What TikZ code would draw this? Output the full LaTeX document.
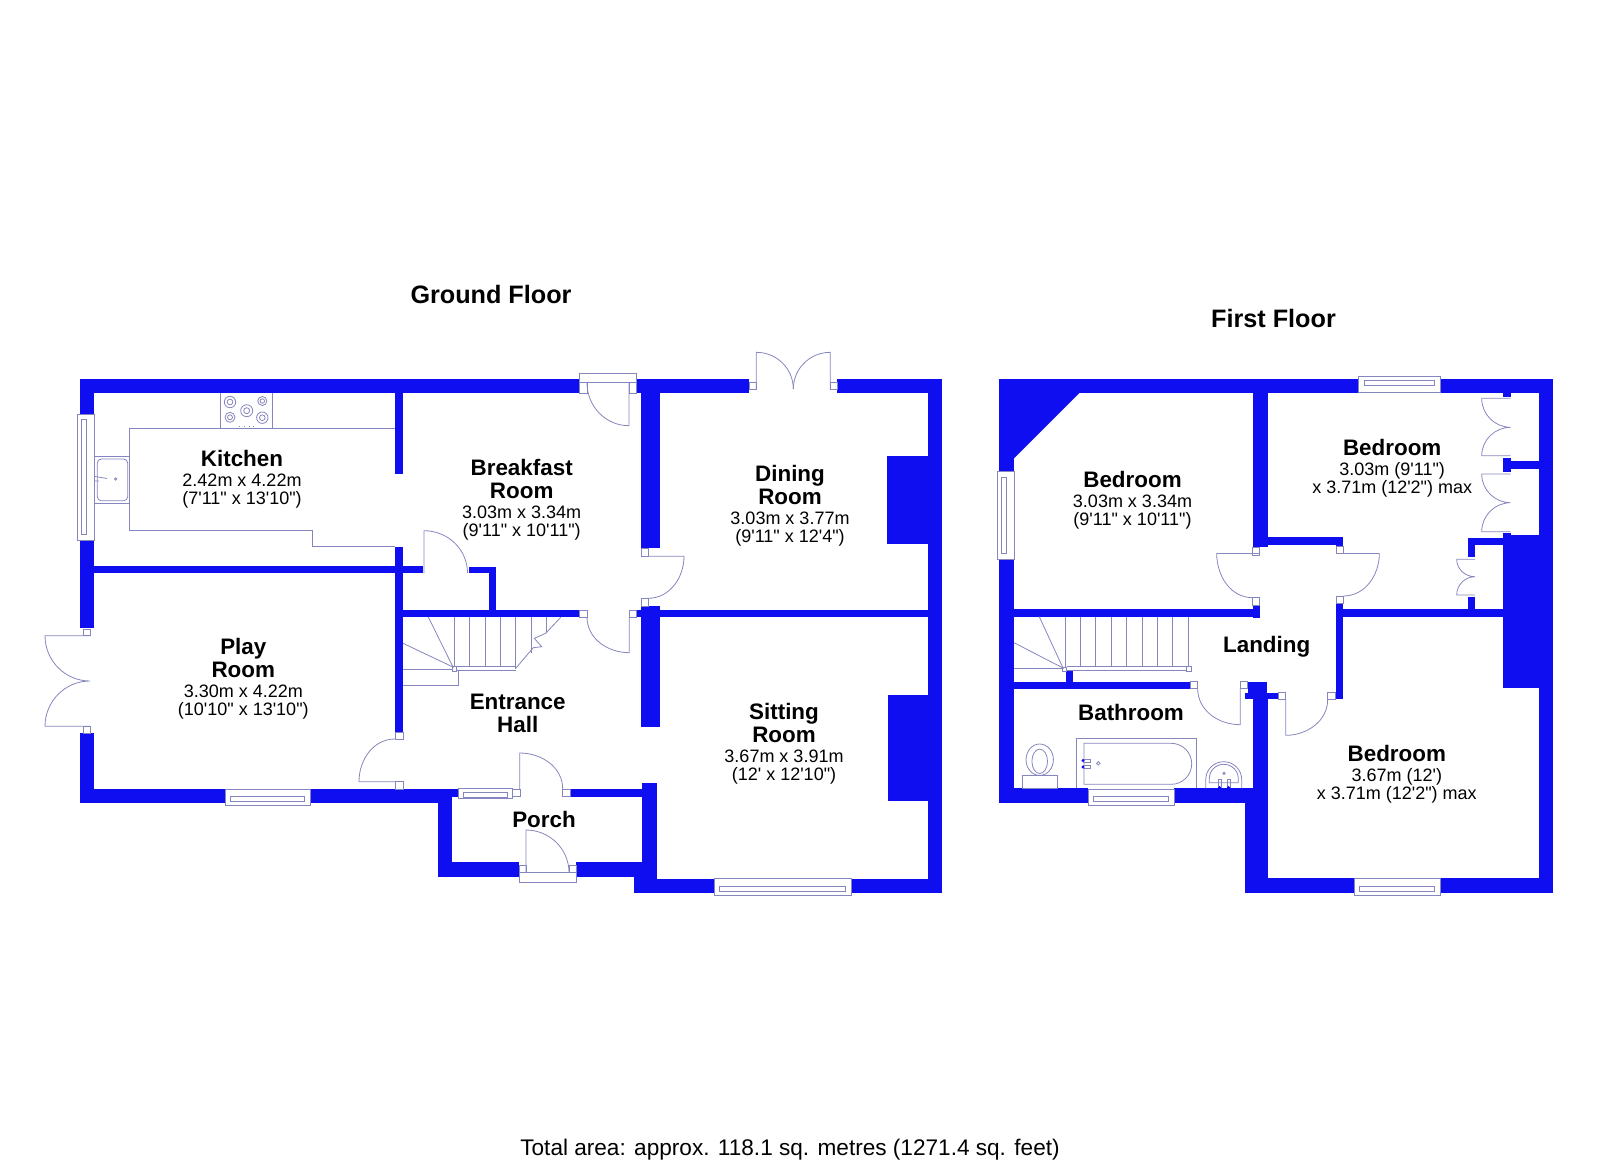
\documentclass[tikz,border=0pt]{standalone}
\usepackage{fontspec}
\usepackage{tikz}
\newfontfamily\planfont{Liberation Sans}
\definecolor{wallblue}{RGB}{14,14,240}
\definecolor{fixgray}{RGB}{134,134,190}
\newcommand{\namesize}{\fontsize{11.2}{11.5}\selectfont\bfseries}
\newcommand{\dimsize}{\fontsize{9}{9}\selectfont\lineskiplimit=-100pt\relax}

\begin{document}
\begin{tikzpicture}[x=0.5pt,y=-0.5pt,
        wall/.style={fill=wallblue,draw=none},
        fixture/.style={draw=fixgray,line width=0.4pt},
        roomtext/.style={align=center,inner sep=0pt,font=\planfont\dimsize},
        titletext/.style={inner sep=0pt,font=\planfont\fontsize{12.6}{13}\selectfont\bfseries},
        footertext/.style={inner sep=0pt,font=\planfont\fontsize{11.3}{12}\selectfont}]
        \useasboundingbox (0,0) rectangle (1600,1163);

        % ground floor walls
        \foreach \xa/\ya/\xb/\yb in {79.5/378.5/579/393, 636.7/378.5/749.3/393, 837.3/378.5/942.3/393,
                927.7/378.5/942.3/893.3, 886.7/456.3/928/543.7, 887.7/694.7/928/800.7,
                79.5/378.5/94/414, 79.5/540.3/94/628.3, 80/733.3/94/803.3,
                80/789/225.3/803.3, 310/789/438/803.3, 438/789/458/796.7,
                438/789/452/876.5, 438/861.7/519/876.5, 576/861.7/656.7/876.5,
                570/789/641.7/796.7, 641.7/783.3/656.7/893.3,
                634/876/656.7/893.3, 634/878.7/714.3/893.3, 851/878.7/942.3/893.3,
                395/393/403/474, 395/547/403/732, 94/566/423/573,
                469/567/496/573, 489/567/496/610, 403/610/579/617,
                641.3/393/660.3/548, 641.3/606/660.3/726.7, 636.7/610/928/617}
            \fill[wall] (\xa,\ya) rectangle (\xb,\yb);

        % first floor walls
        \foreach \xa/\ya/\xb/\yb in {999.3/378.5/1358.7/393, 1440.3/378.5/1553.3/393,
                999.3/378.5/1014/471.7, 999.3/559.3/1014/803.3,
                999.3/788.3/1088.3/803.3, 1174.3/788.3/1252.7/803.3,
                1539.3/378.5/1553.3/892.7, 1252.7/393/1268.3/547,
                1252.7/537.3/1343.3/544.7, 1336.3/544.7/1343.3/546,
                1336.3/603.3/1343.3/699.3, 1343.3/609.3/1502.7/617,
                1467.7/537.7/1503/545, 1467.7/545/1475/557.3, 1467.7/596.7/1475/609.3,
                1502.7/535/1539.3/688.3, 1503.3/393/1510.7/396.7,
                1503.3/457.7/1510.7/472.3, 1510.7/461/1539.3/468.7, 1503.3/533.3/1510.7/535,
                1014/609.3/1259.7/616.7, 1252.7/605/1259.7/618.3,
                1066/670.7/1073/681.7, 1014/681.7/1190/688.7,
                1247.5/681.7/1267/699.3, 1245/692.5/1278.3/699.3,
                1252.7/699/1267.7/803.3, 1245/803.3/1267.7/892.7,
                1245/878.3/1354/892.7, 1440/878.3/1553.3/892.7}
            \fill[wall] (\xa,\ya) rectangle (\xb,\yb);
        \fill[wall] (999.3,393) -- (1079.3,393) -- (1014,458.3) -- (999.3,458.3) -- cycle;

        % door jambs
        \foreach \xa/\ya/\xb/\yb in {579/382.7/587/393, 629/382.7/636.7/393,
                749.3/382.7/756.3/389.3, 830.3/382.7/837.3/389.3,
                641.3/548/648/556.3, 641.3/598.3/648/606,
                579/610/587/617, 629.3/610/636.7/617,
                395/732/403/739, 395/781.7/403/789,
                512.7/789/520/796.7, 562.7/789/570/796.7,
                519/865.7/526/872.7, 569/865.7/576/872.7,
                83.3/629/90.7/635.7, 83.3/726.3/90.7/733.3,
                1252.7/547.7/1259.7/555, 1336.3/546/1343.3/553.5,
                1252.7/597.7/1259.7/605, 1336.3/596/1343.3/603.3,
                1190/681.7/1197.7/688.7, 1240.3/681.7/1247.5/688.7,
                1278.3/692.5/1285.7/699.3, 1327.7/692.5/1335.3/699.3}
            \draw[fixture] (\xa,\ya) rectangle (\xb,\yb);

        % door leaves and swings, ground floor
        \draw[fixture] (579,373) rectangle (636.7,382.7);
        \draw[fixture] (629,382.7) -- (629,425.7) to[out=180,in=270] (587,382.7);
        \draw[fixture] (756.3,389) -- (756.3,352.3) to[out=0,in=90] (793.3,389);
        \draw[fixture] (830.3,389) -- (830.3,352.3) to[out=180,in=90] (793.3,389);
        \draw[fixture] (648,556.3) -- (684,556.3) to[out=270,in=0] (648,598.3);
        \draw[fixture] (629.3,617) -- (629.3,652.7) to[out=180,in=270] (587,617);
        \draw[fixture] (424,573) -- (424,530.7) to[out=0,in=90] (467.5,573);
        \draw[fixture] (395,781.7) -- (359,781.7) to[out=90,in=180] (395,739);
        \draw[fixture] (519.7,789) -- (519.7,753) to[out=0,in=90] (562.7,789);
        \draw[fixture] (526,872.7) -- (526,830) to[out=0,in=90] (569,872.7);
        \draw[fixture] (519,872.7) rectangle (576,882);
        \draw[fixture] (90.7,635.7) -- (45,635.7) to[out=270,in=180] (90,681)
                to[out=180,in=90] (45,726.3) -- (90.7,726.3);

        % door leaves and swings, first floor
        \draw[fixture] (1259.7,553.5) -- (1216.7,553.5) to[out=270,in=180] (1252.7,597.7);
        \draw[fixture] (1343.3,553.5) -- (1379.3,553.5) to[out=270,in=0] (1343.3,596);
        \draw[fixture] (1240.3,688.7) -- (1240.3,724.7) to[out=180,in=270] (1197.7,688.7);
        \draw[fixture] (1285.7,699.3) -- (1285.7,735.3) to[out=0,in=270] (1327.7,699.3);
        \draw[fixture] (1510.7,398.3) -- (1481.7,398.3) to[out=270,in=180] (1510.7,427.3)
                to[out=180,in=90] (1481.7,455.7) -- (1510.7,455.7);
        \draw[fixture] (1510.7,474) -- (1481.7,474) to[out=270,in=180] (1510.7,502.7)
                to[out=180,in=90] (1481.7,531.7) -- (1510.7,531.7);
        \draw[fixture] (1475,559.3) -- (1456.7,559.3) to[out=270,in=180] (1475,576.7)
                to[out=180,in=90] (1456.7,595) -- (1475,595);

        % windows along a horizontal wall
        \foreach \xa/\ya/\xb/\yb/\yc/\yd in {225.3/789/310/805.3/796.7/801.7,
                714.3/878.7/851/895.7/886/891.7, 1088.3/789/1174.3/805.3/796/801.7,
                1354/878.3/1440/895.3/886/891.7, 1358.7/376/1440.3/392.7/380/385.7,
                458/788/512.7/798/792.7/797.3}{
            \draw[fixture] (\xa,\ya) rectangle (\xb,\yb);
            \draw[fixture] (\xa+5.5,\yc) rectangle (\xb-5.5,\yd);
        }
        % windows along a vertical wall
        \foreach \xa/\ya/\xb/\yb/\xc/\xd in {77/414/94/540.3/81.7/86.7, 997/471.7/1014/559.3/1001.7/1006.7}{
            \draw[fixture] (\xa,\ya) rectangle (\xb,\yb);
            \draw[fixture] (\xc,\ya+5.5) rectangle (\xd,\yb-5.5);
        }

        % kitchen units
        \draw[fixture] (129.3,456) -- (129.3,428.3) -- (395,428.3);
        \draw[fixture] (129.3,503.3) -- (129.3,530.3) -- (312,530.3) -- (312,546.3) -- (395,546.3);
        \draw[fixture] (220.3,393) -- (220.3,428.3);
        \draw[fixture] (272.3,393) -- (272.3,428.3);
        \draw[fixture] (94,456) rectangle (129.3,503.3);
        \draw[fixture,rounded corners=2pt] (97.3,459) rectangle (127.7,500.7);
        \draw[fixture] (95,476.5) -- (107,478.5) (95,481) -- (99,481);
        \draw[fixture] (115.7,479) circle (0.6pt);
        \foreach \cx/\cy/\rad in {230/402/5.7, 262.3/401/4.5, 246.7/410.7/6, 230/417.3/5, 262.3/417.7/5.7}{
            \draw[fixture] (\cx,\cy) circle ({\rad*0.5pt});
            \draw[fixture] (\cx,\cy) circle ({\rad*0.25pt});
        }
        \foreach \cx in {239,244,249,253}
            \draw[fixture] (\cx,426) -- (\cx,427);

        % ground floor stairs
        \foreach \sx/\sb in {469.3/666.7, 485/666.7, 500.3/666.7, 515.7/669, 531/653, 546.7/632}
            \draw[fixture] (\sx,617) -- (\sx,\sb);
        \draw[fixture] (454,617) -- (454,666);
        \draw[fixture] (456.3,666.7) -- (515.7,666.7) (456.3,670) -- (515.7,670);
        \draw[fixture] (452,666) rectangle (456.3,671.4);
        \draw[fixture] (428.3,617) -- (453,667) -- (403,643.3);
        \draw[fixture] (403,669) -- (452,669);
        \draw[fixture] (403,685.7) -- (458.3,685.7) -- (458.3,671);
        \draw[fixture] (560.7,617.3) -- (545.7,633.3) -- (534.3,638.3) -- (541.7,646.7)
                -- (533.3,647.7) -- (515.7,668.3);

        % first floor stairs
        \foreach \sx in {1065,1080.3,1095.7,1111.3,1126.7,1142,1157.3,1172.7,1188.3}
            \draw[fixture] (\sx,616.7) -- (\sx,666.7);
        \draw[fixture] (1066.7,666.7) -- (1186.7,666.7) (1066.7,670.7) -- (1186.7,670.7);
        \draw[fixture] (1186.7,666) rectangle (1191.7,671);
        \draw[fixture] (1062.7,667) rectangle (1066,671);
        \draw[fixture] (1039.3,616.7) -- (1063,668) -- (1014,642.7);
        \draw[fixture] (1014,668.7) -- (1062.7,668.7);

        % bathroom
        \draw[fixture] (1022,788.3) rectangle (1057.7,775.3);
        \draw[fixture] (1039.7,759.7) ellipse (6.85pt and 7.85pt);
        \draw[fixture] (1039.7,761.3) ellipse (3.9pt and 6.1pt);
        \draw[fixture] (1076,788.3) -- (1076,738.3) -- (1196,738.3) -- (1196,788.3);
        \draw[fixture] (1171.2,743.3) -- (1084,743.3) -- (1084,784.3) -- (1171.2,784.3)
                to[out=0,in=270] (1191.7,763.8) to[out=90,in=0] (1171.2,743.3);
        \draw[fixture] (1083,759.3) rectangle (1090,762);
        \draw[fixture] (1083,765.7) rectangle (1090,768.7);
        \fill[wallblue] (1083,760.5) circle (0.8pt) (1083,767) circle (0.8pt);
        \draw[fixture] (1098.3,763.3) circle (0.9pt);
        \draw[fixture] (1205.7,788.3) -- (1205.7,779.7) to[out=90,in=180] (1223.7,761.7)
                to[out=0,in=90] (1241.7,779.7) -- (1241.7,788.3);
        \draw[fixture] (1209.3,782.7) -- (1209.3,778.7) to[out=90,in=180] (1223.7,764.3)
                to[out=0,in=90] (1238.3,778.7) -- (1238.3,782.7) -- cycle;
        \draw[fixture] (1218,779) rectangle (1221,787);
        \draw[fixture] (1227,779) rectangle (1230,787);
        \fill[wallblue] (1219.5,787.5) circle (0.8pt) (1228.5,787.5) circle (0.8pt);
        \draw[fixture] (1224,773.3) circle (0.6pt);

        % labels
        \node[titletext] (groundfloor) at (491,294) {Ground Floor};
        \node[titletext] (firstfloor) at (1273.5,318.4) {First Floor};
        \node[roomtext] (kitchen) at (242,479) {{\namesize Kitchen}\\[1pt]2.42m x 4.22m\\(7'11" x 13'10")};
        \node[roomtext] (breakfast) at (521.7,499.8) {{\namesize Breakfast}\\[2.5pt]{\namesize Room}\\[1pt]3.03m x 3.34m\\(9'11" x 10'11")};
        \node[roomtext] (dining) at (790,505.5) {{\namesize Dining}\\[2.5pt]{\namesize Room}\\[1pt]3.03m x 3.77m\\(9'11" x 12'4")};
        \node[roomtext] (sitting) at (784,743.8) {{\namesize Sitting}\\[2.5pt]{\namesize Room}\\[1pt]3.67m x 3.91m\\(12' x 12'10")};
        \node[roomtext] (play) at (243.3,678.3) {{\namesize Play}\\[2.5pt]{\namesize Room}\\[1pt]3.30m x 4.22m\\(10'10" x 13'10")};
        \node[roomtext] (entrance) at (517.7,713) {{\namesize Entrance}\\[2.5pt]{\namesize Hall}};
        \node[roomtext] (porch) at (544,819.5) {\namesize Porch};
        \node[roomtext] (bedroomwest) at (1132.5,500.5) {{\namesize Bedroom}\\[1pt]3.03m x 3.34m\\(9'11" x 10'11")};
        \node[roomtext] (bedroomeast) at (1392.2,468.5) {{\namesize Bedroom}\\[1pt]3.03m (9'11")\\x 3.71m (12'2") max};
        \node[roomtext] (bedroomfront) at (1396.8,773.8) {{\namesize Bedroom}\\[1pt]3.67m (12')\\x 3.71m (12'2") max};
        \node[roomtext] (landing) at (1266.7,646.5) {\namesize Landing};
        \node[roomtext] (bathroom) at (1131,712.3) {\namesize Bathroom};
        \node[footertext] (totalarea) at (790,1149.5) {Total area: approx. 118.1 sq. metres (1271.4 sq. feet)};
    \end{tikzpicture}
\end{document}
